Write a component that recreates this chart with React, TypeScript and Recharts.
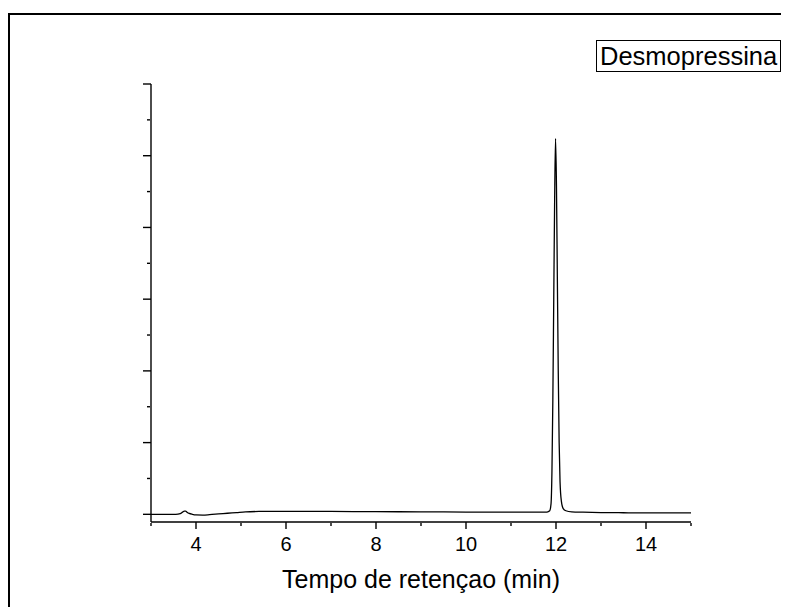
import React from 'react';
import { LineChart, Line, XAxis, YAxis } from 'recharts';

// Retention time (min) and detector signal (arbitrary units)
const times = [
  3.0, 3.3, 3.55, 3.65, 3.7, 3.74, 3.77, 3.8, 3.85, 3.92, 4.0, 4.15, 4.3, 4.5, 4.7, 4.9,
  5.1, 5.4, 6.0, 7.0, 8.0, 9.0, 10.0, 11.0, 11.6, 11.8, 11.86, 11.89, 11.91, 11.93,
  11.95, 11.97, 11.99, 12.01, 12.03, 12.05, 12.07, 12.09, 12.12, 12.16, 12.22, 12.35,
  12.6, 13.0, 13.5, 14.0, 14.5, 15.0,
];
const signal = [
  0.0, 0.0, 0.0, 0.01, 0.03, 0.045, 0.045, 0.03, 0.012, 0.0, -0.008, -0.01, -0.005, 0.005, 0.015, 0.025,
  0.035, 0.04, 0.042, 0.04, 0.037, 0.035, 0.032, 0.03, 0.03, 0.032, 0.05, 0.15, 0.6, 1.6,
  3.0, 4.4, 5.24, 4.6, 3.3, 2.0, 1.0, 0.45, 0.18, 0.08, 0.05, 0.035,
  0.03, 0.025, 0.022, 0.02, 0.02, 0.02,
];

const xMajorTicks = [4, 6, 8, 10, 12, 14];
const xMinorTicks = [3, 5, 7, 9, 11, 13, 15];
const yMajorTicks = [0, 1, 2, 3, 4, 5, 6];
const yMinorTicks = [0.5, 1.5, 2.5, 3.5, 4.5, 5.5];
const xDomain = [3, 15];
const yDomain = [-0.107, 6];
const seriesName = 'Desmopressina';
const xTitle = 'Tempo de retençao (min)';

const data = times.map((t, i) => ({ t, v: signal[i] }));

const FONT = '"Liberation Sans", Arial, Helvetica, sans-serif';

const EmptyTick = () => <g />;

const XTitle = (props: any) => {
  const vb = props.viewBox || {};
  return (
    <text
      x={vb.x + vb.width / 2}
      y={vb.y + 66}
      textAnchor="middle"
      fontSize={25}
      fontFamily={FONT}
      fill="#000"
    >
      {xTitle}
    </text>
  );
};

export default function App() {
  return (
    <div style={{ position: 'relative', width: 773, height: 599, overflow: 'hidden', fontFamily: FONT, background: '#fff' }}>
      <div
        style={{
          position: 'absolute',
          left: 0,
          top: 5,
          width: 900,
          height: 900,
          borderLeft: '2px solid #000',
          borderTop: '2px solid #000',
        }}
      />
      <div style={{ position: 'absolute', left: 0, top: 0 }}>
        <LineChart
          width={773}
          height={599}
          data={data}
          margin={{ top: 76, right: 90, bottom: 83, left: 141 }}
        >
          <XAxis
            dataKey="t"
            type="number"
            domain={xDomain}
            ticks={xMajorTicks}
            allowDataOverflow
            height={1}
            tickSize={7}
            tickMargin={8}
            stroke="#000"
            strokeWidth={1.4}
            tick={{ fill: '#000', fontSize: 20, fontFamily: FONT }}
            label={<XTitle />}
          />
          <XAxis
            xAxisId="minor"
            dataKey="t"
            type="number"
            domain={xDomain}
            ticks={xMinorTicks}
            allowDataOverflow
            height={1}
            tickSize={3}
            axisLine={false}
            stroke="#000"
            strokeWidth={1.4}
            tick={<EmptyTick />}
          />
          <YAxis
            type="number"
            domain={yDomain}
            ticks={yMajorTicks}
            allowDataOverflow
            width={1}
            tickSize={8}
            stroke="#000"
            strokeWidth={1.4}
            tick={<EmptyTick />}
          />
          <YAxis
            yAxisId="minor"
            type="number"
            domain={yDomain}
            ticks={yMinorTicks}
            allowDataOverflow
            width={1}
            tickSize={3}
            axisLine={false}
            stroke="#000"
            strokeWidth={1.4}
            tick={<EmptyTick />}
          />
          <Line
            dataKey="v"
            name={seriesName}
            type="monotone"
            stroke="#000"
            strokeWidth={1.3}
            dot={false}
            isAnimationActive={false}
          />
        </LineChart>
      </div>
      <div
        style={{
          position: 'absolute',
          left: 588,
          top: 32,
          width: 180,
          height: 30,
          border: '1px solid #000',
          fontSize: 25.5,
          lineHeight: '30px',
          paddingLeft: 3,
          boxSizing: 'content-box',
          whiteSpace: 'nowrap',
          overflow: 'hidden',
          color: '#000',
          fontFamily: FONT,
        }}
      >
        {seriesName}
      </div>
    </div>
  );
}
